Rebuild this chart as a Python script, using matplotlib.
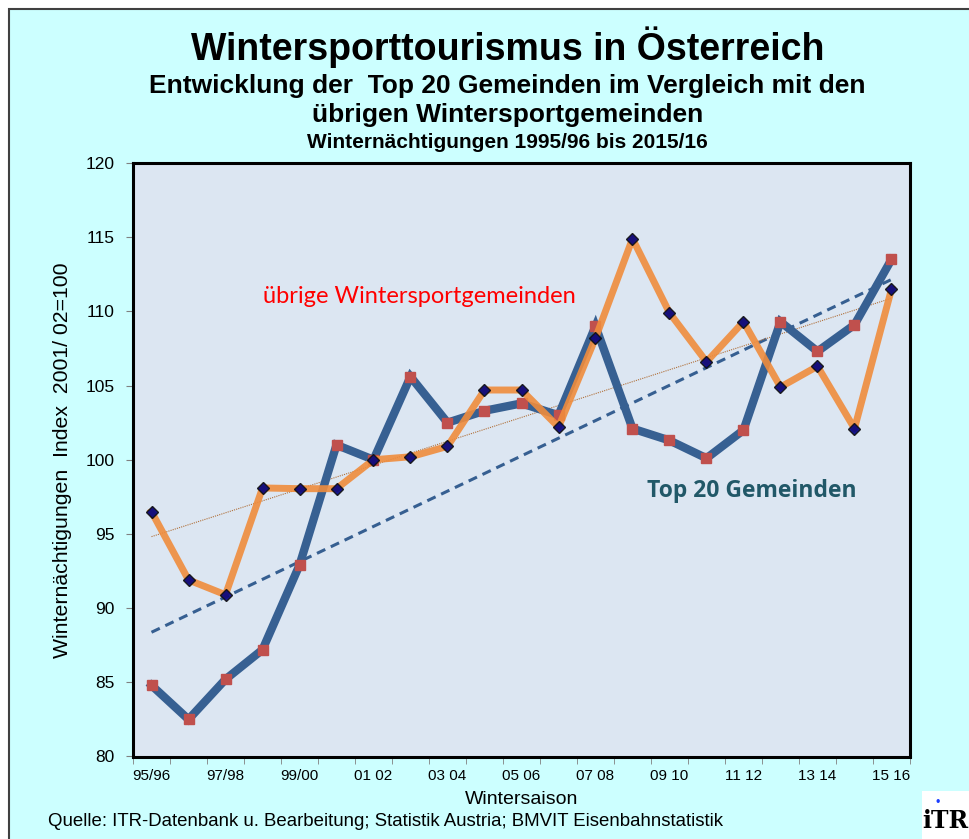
import numpy as np
import matplotlib
matplotlib.use("Agg")
import matplotlib.pyplot as plt
from matplotlib.patches import Rectangle

# Data
seasons = ["95/96", "96/97", "97/98", "98/99", "99/00", "00/01", "01 02", "02 03",
           "03 04", "04 05", "05 06", "06 07", "07 08", "08 09", "09 10", "10 11",
           "11 12", "12 13", "13 14", "14 15", "15 16"]
top20 = [84.8, 82.5, 85.2, 87.2, 92.9, 101.0, 100.0, 105.6, 102.5, 103.3, 103.8,
         103.0, 109.0, 102.1, 101.3, 100.1, 102.0, 109.3, 107.3, 109.1, 113.5]
uebrige = [96.5, 91.9, 90.9, 98.1, 98.05, 98.05, 100.0, 100.2, 100.9, 104.7, 104.7,
           102.2, 108.2, 114.9, 109.9, 106.6, 109.3, 104.9, 106.3, 102.1, 111.5]

plt.rcParams['font.family'] = ['Liberation Sans', 'DejaVu Sans']

fig = plt.figure(figsize=(9.7, 8.39), dpi=100)
bg = Rectangle((9 / 970, -0.01), 1.0, (839 - 9) / 839 + 0.01,
               transform=fig.transFigure, facecolor='#CCFFFF',
               edgecolor='#404040', linewidth=1.5, zorder=-5)
fig.patches.append(bg)

ax = fig.add_axes([133 / 970, (839 - 756.5) / 839, (910 - 133) / 970, (756.5 - 163) / 839])
ax.set_zorder(2)
ax.set_facecolor('#DCE6F2')

x = np.arange(len(seasons))

# linear trends
b1 = np.polyfit(x, top20, 1)
b2 = np.polyfit(x, uebrige, 1)
ax.plot(x, np.polyval(b1, x), color='#365F91', lw=2.2, ls=(0, (3, 2)), zorder=2)
ax.plot(x, np.polyval(b2, x), color='#B0703A', lw=0.8, ls=(0, (1, 1)), zorder=2)

ax.plot(x, top20, color='#376092', lw=6, solid_joinstyle='miter', zorder=3,
        marker='s', ms=6.5, mfc='#C0504D', mec='#C0504D')
ax.plot(x, uebrige, color='#F08C3C', alpha=0.9, lw=5, zorder=4,
        marker='D', ms=6.5, mfc='#000080', mec='#111111', mew=1.0)

ax.set_xlim(-0.5, len(seasons) - 0.5)
ax.set_ylim(80, 120)
ax.set_yticks(range(80, 121, 5))
ax.set_xticks(x[::2])
ax.set_xticklabels(seasons[::2])
ax.set_xticks(np.arange(-0.5, len(seasons), 1), minor=True)
ax.tick_params(axis='x', which='major', length=0, labelsize=11, pad=9)
ax.tick_params(axis='x', which='minor', length=5, color='#808080')
ax.tick_params(axis='y', labelsize=12.5, length=5, color='#808080', pad=8)
for s in ax.spines.values():
    s.set_linewidth(2.2)
    s.set_color('black')

ax.set_ylabel('Winternächtigungen  Index  2001/ 02=100', fontsize=15.3, labelpad=10)
ax.set_xlabel('Wintersaison', fontsize=14, labelpad=6)

ax.text(0.167, 0.775, 'übrige Wintersportgemeinden', transform=ax.transAxes,
        color='#FF0000', fontsize=17, family=['Lato', 'DejaVu Sans'], va='center')
ax.text(0.662, 0.448, 'Top 20 Gemeinden', transform=ax.transAxes,
        color='#215868', fontsize=16.5, fontweight='bold', family=['Open Sans', 'DejaVu Sans'],
        va='center')

fig.text(0.523, (839 - 47) / 839, 'Wintersporttourismus in Österreich', ha='center',
         va='center', fontsize=27, fontweight='bold')
fig.text(0.523, (839 - 86) / 839, 'Entwicklung der  Top 20 Gemeinden im Vergleich mit den',
         ha='center', va='center', fontsize=19, fontweight='bold')
fig.text(0.523, (839 - 115) / 839, 'übrigen Wintersportgemeinden', ha='center',
         va='center', fontsize=19, fontweight='bold')
fig.text(0.523, (839 - 143) / 839, 'Winternächtigungen 1995/96 bis 2015/16', ha='center',
         va='center', fontsize=15, fontweight='bold')
fig.text(48 / 970, (839 - 822) / 839,
         'Quelle: ITR-Datenbank u. Bearbeitung; Statistik Austria; BMVIT Eisenbahnstatistik',
         ha='left', va='center', fontsize=13.4)

# ITR logo
fig.patches.append(Rectangle((922 / 970, 0), 48 / 970, 48 / 839, transform=fig.transFigure,
                             facecolor='white', edgecolor='none', zorder=1))
fig.text(945 / 970, 18 / 839, 'iTR', ha='center', va='center', fontsize=17,
         family='DejaVu Serif', fontweight='bold', zorder=2)
fig.text(938 / 970, 36 / 839, '•', ha='center', va='center', fontsize=9,
         color='#1A3CFF', zorder=3)

fig.savefig('out.png', dpi=100)
